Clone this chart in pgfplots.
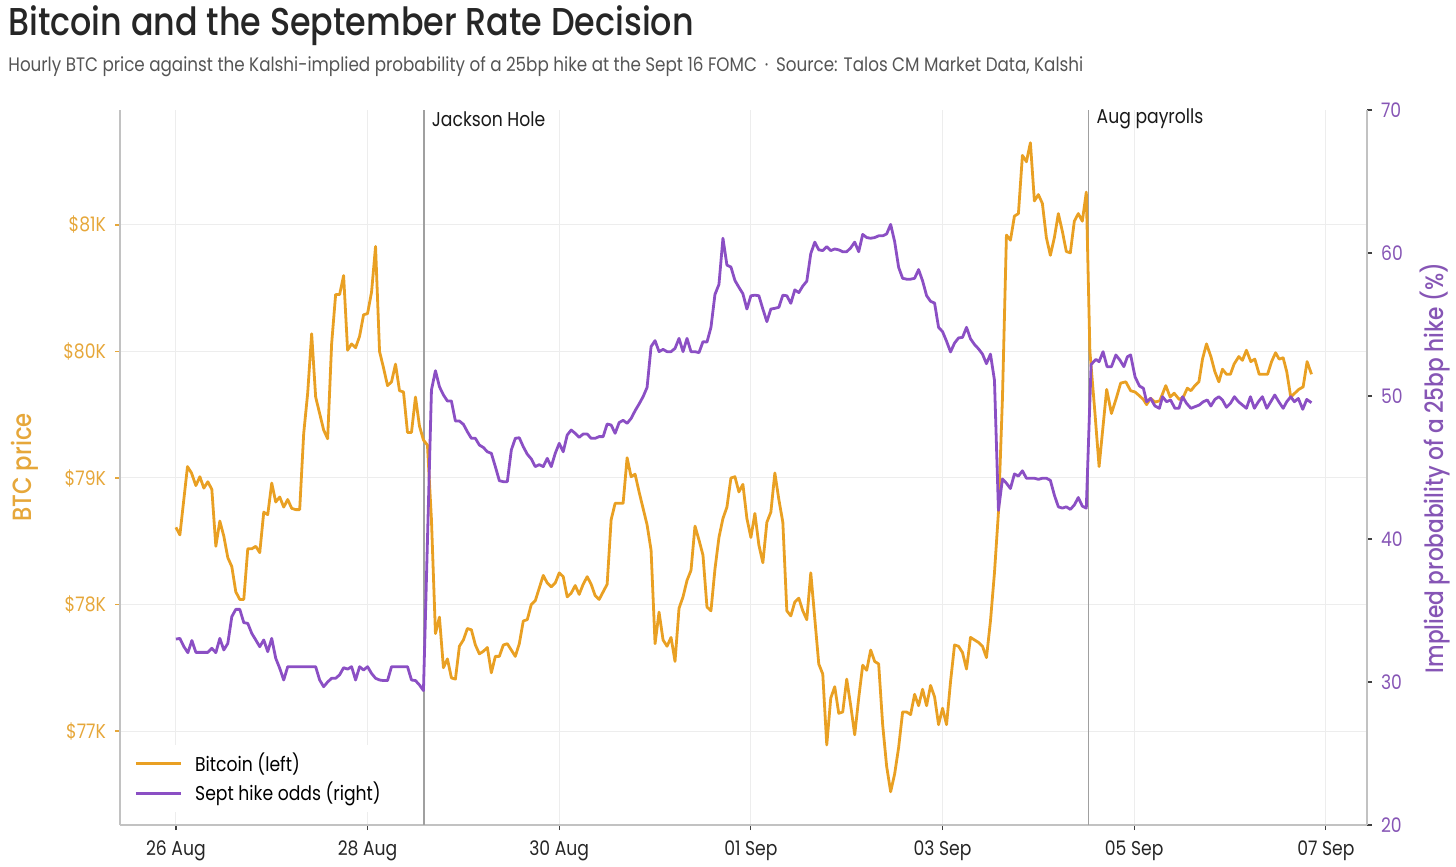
\documentclass[border=0pt]{standalone}
\usepackage{pgfplots}
\pgfplotsset{compat=1.18}
\usepackage{fontspec}
\setmainfont{Poppins}[FakeStretch=0.86]
\newfontfamily\medfont{Poppins Medium}[FakeStretch=0.86]
\definecolor{btc}{HTML}{E9A023}
\definecolor{odds}{HTML}{8B4FC4}
\definecolor{btclab}{HTML}{E6A73A}
\definecolor{oddslab}{HTML}{8655B5}
\definecolor{titlec}{HTML}{262626}
\definecolor{subc}{HTML}{555555}
\definecolor{spine}{HTML}{C2C2C2}
\definecolor{gridc}{HTML}{EDEDED}
\definecolor{eventc}{HTML}{A0A0A0}
\begin{document}
\begin{tikzpicture}
\path[use as bounding box] (0,0) rectangle (728pt,433.5pt);
\node[anchor=base west, inner sep=0, text=titlec] at (4pt,415.5pt) {\medfont\fontsize{19.4pt}{21pt}\selectfont Bitcoin and the September Rate Decision};
\node[anchor=base west, inner sep=0, text=subc] at (4pt,397.5pt) {\fontsize{9.75pt}{11pt}\selectfont Hourly BTC price against the Kalshi-implied probability of a 25bp hike at the Sept 16 FOMC \,·\, Source: Talos CM Market Data, Kalshi};
\node[rotate=90, text=btclab] at (12.5pt,199.75pt) {\medfont\fontsize{13.2pt}{14pt}\selectfont BTC price};
\node[rotate=90, text=oddslab] at (717.5pt,199.5pt) {\medfont\fontsize{12.6pt}{13pt}\selectfont Implied probability of a 25bp hike (\%)};
\begin{axis}[
  at={(60pt,21pt)}, anchor=south west, scale only axis,
  width=623.5pt, height=357.5pt,
  xmin=-14, xmax=298.3, ymin=76.257, ymax=81.909,
  axis x line*=bottom, axis y line*=left,
  axis line style={draw=spine, line width=0.8pt, -},
  xtick={0,48,96,144,192,240,288},
  xticklabels={26 Aug,28 Aug,30 Aug,01 Sep,03 Sep,05 Sep,07 Sep},
  ytick={77,78,79,80,81},
  yticklabels={\$77K,\$78K,\$79K,\$80K,\$81K},
  tick align=outside, major tick length=2.5pt,
  xtick style={draw=black!75, line width=0.6pt},
  ytick style={draw=btclab, line width=0.6pt},
  xticklabel style={font=\fontsize{10pt}{11pt}\selectfont, text=black!85, yshift=-2pt},
  yticklabel style={font=\fontsize{10pt}{11pt}\selectfont, text=btclab, xshift=-1pt},
  grid=major, grid style={draw=gridc, line width=0.5pt},
  clip=false,
]
\draw[eventc, line width=0.75pt] (axis cs:62.1,76.257) -- (axis cs:62.1,81.909);
\draw[eventc, line width=0.75pt] (axis cs:228.6,76.257) -- (axis cs:228.6,81.909);
\node[anchor=west, inner sep=0, text=black!90, font=\fontsize{10pt}{11pt}\selectfont] at (axis cs:64,81.84) {Jackson Hole};
\node[anchor=west, inner sep=0, text=black!90, font=\fontsize{10pt}{11pt}\selectfont] at (axis cs:230.5,81.84) {Aug payrolls};
\addplot[btc, line width=1.4pt, line join=round] coordinates {
(0,78.61)(1,78.55)(2.9,79.09)(3.9,79.04)(5,78.94)(6,79.01)(7,78.92)(8,78.97)(9,78.91)(10,78.46)
(11,78.66)(12,78.54)(13,78.37)(14,78.30)(15,78.10)(16,78.04)(17,78.04)(18,78.44)(19,78.44)(20,78.46)
(21,78.41)(22,78.73)(23,78.71)(24,78.96)(25,78.81)(26,78.85)(27,78.77)(28,78.83)(29,78.76)(30,78.75)
(31,78.75)(32,79.35)(33,79.67)(34,80.14)(35,79.64)(36,79.51)(37,79.38)(38,79.31)(39,80.06)(40,80.45)
(41,80.45)(42,80.60)(43,80.01)(44,80.06)(45,80.03)(46,80.12)(47,80.29)(48,80.30)(49,80.47)(50,80.83)
(51,80.00)(52,79.87)(53,79.73)(54,79.76)(55,79.90)(56,79.69)(57,79.68)(58,79.36)(59,79.36)(60,79.64)
(61,79.41)(62,79.30)(63,79.26)(64,78.67)(65,77.77)(66,77.90)(67,77.50)(68,77.57)(69,77.42)(70,77.41)
(71,77.67)(72,77.72)(73,77.81)(74,77.80)(75,77.68)(76,77.61)(77,77.63)(78,77.66)(79,77.46)(80,77.59)
(81,77.59)(82,77.68)(83,77.69)(84,77.64)(85,77.59)(86,77.69)(87,77.87)(88,77.88)(89,78.00)(90,78.03)
(91,78.13)(92,78.23)(93,78.17)(94,78.14)(95,78.17)(96,78.25)(97,78.22)(98,78.06)(99,78.09)(100,78.15)
(101,78.08)(102,78.16)(103,78.22)(104,78.16)(105,78.07)(106,78.04)(107,78.10)(108,78.16)(109,78.67)(110,78.80)
(111,78.80)(112,78.80)(113,79.16)(114,79.01)(115,79.03)(116,78.89)(117,78.76)(118,78.63)(119,78.43)(120,77.69)
(121,77.94)(122,77.72)(123,77.67)(124,77.74)(125,77.55)(126,77.97)(127,78.06)(128,78.19)(129,78.27)(130,78.62)
(131,78.51)(132,78.39)(133,77.98)(134,77.95)(135,78.28)(136,78.53)(137,78.68)(138,78.77)(139,79.00)(140,79.01)
(141,78.89)(142,78.95)(143,78.68)(144,78.53)(145,78.72)(146,78.47)(147,78.33)(148,78.65)(149,78.73)(150,79.04)
(151,78.83)(152,78.65)(153,77.95)(154,77.91)(155,78.02)(156,78.05)(157,77.95)(158,77.88)(159,78.25)(160,77.89)
(161,77.53)(162,77.45)(163,76.89)(164,77.26)(165,77.35)(166,77.14)(167,77.15)(168,77.41)(169,77.20)(170,76.97)
(171,77.26)(172,77.52)(173,77.48)(174,77.64)(175,77.55)(176,77.53)(177,77.05)(178,76.72)(179,76.52)(180,76.66)
(181,76.87)(182,77.15)(183,77.15)(184,77.13)(185,77.29)(186,77.20)(187,77.33)(188,77.20)(189,77.36)(190,77.27)
(191,77.05)(192,77.18)(193,77.05)(194,77.39)(195,77.68)(196,77.67)(197,77.62)(198,77.49)(199,77.74)(200,77.72)
(201,77.70)(202,77.67)(203,77.58)(204,77.87)(205,78.25)(206,78.73)(207,79.63)(208,80.92)(209,80.88)(210,81.07)
(211,81.09)(212,81.55)(213,81.50)(214,81.65)(215,81.19)(216,81.24)(217,81.17)(218,80.90)(219,80.76)(220,80.90)
(221,81.09)(222,80.95)(223,80.79)(224,80.78)(225,81.03)(226,81.09)(227,81.03)(228,81.26)(228.9,80.00)(230.2,79.50)
(231.2,79.09)(233.1,79.70)(234.3,79.51)(235.6,79.64)(236.6,79.75)(237.9,79.76)(239.1,79.69)(240.2,79.68)(241.3,79.65)(242.3,79.62)
(243.1,79.58)(244.1,79.63)(245.2,79.60)(246.4,79.61)(247.9,79.73)(249.0,79.64)(250.0,79.67)(251.3,79.62)(252.3,79.64)(253.3,79.71)
(254.2,79.69)(255.2,79.73)(256.2,79.76)(257.1,79.94)(258.1,80.06)(259.2,79.96)(260.2,79.84)(261.2,79.76)(262.1,79.86)(263.1,79.82)
(264.1,79.82)(265.0,79.90)(266.2,79.96)(267.1,79.93)(268.1,80.01)(269.2,79.92)(270.2,79.94)(271.3,79.82)(272.3,79.82)(273.4,79.82)
(274.4,79.92)(275.4,79.99)(276.3,79.94)(277.3,79.95)(278.2,79.84)(279.2,79.64)(280.2,79.67)(281.2,79.70)(282.3,79.72)(283.3,79.92)
(284.4,79.82)
};
\end{axis}
\begin{axis}[
  at={(60pt,21pt)}, anchor=south west, scale only axis,
  width=623.5pt, height=357.5pt,
  xmin=-14, xmax=298.3, ymin=20, ymax=70,
  axis x line=none, axis y line*=right,
  axis line style={draw=spine, line width=0.8pt, -},
  ytick={20,30,40,50,60,70},
  yticklabels={20,30,40,50,60,70},
  tick align=outside, major tick length=2.5pt,
  ytick style={draw=black!75, line width=0.6pt},
  yticklabel style={font=\fontsize{10pt}{11pt}\selectfont, text=oddslab, xshift=1pt},
  clip=false,
  legend style={at={(0.008,0.113)}, anchor=north west, draw=none, fill=white,
    font=\fontsize{10pt}{11pt}\selectfont, row sep=0pt, inner sep=2pt,
    /tikz/every odd column/.append style={column sep=4.5pt}},
  legend cell align=left,
  legend image code/.code={\draw[#1] (0pt,0pt) -- (22.5pt,0pt);},
]
\addlegendimage{btc, line width=1.4pt}
\addlegendentry{Bitcoin (left)}
\addplot[odds, line width=1.4pt, line join=round] coordinates {
(0,33.0)(1,33.05)(2,32.47)(3,32.05)(4,32.9)(5,32.07)(6,32.07)(7,32.07)(8,32.07)(9,32.36)
(10,32.05)(11,33.05)(12,32.24)(13,32.7)(14,34.57)(15,35.08)(16,35.08)(17,34.15)(18,34.1)(19,33.4)
(20,32.94)(21,32.47)(22,32.94)(23,32.12)(24,33.05)(25,31.66)(26,30.96)(27,30.14)(28,31.07)(29,31.07)
(30,31.07)(31,31.07)(32,31.07)(33,31.07)(34,31.07)(35,31.07)(36,30.14)(37,29.67)(38,30.0)(39,30.26)
(40,30.26)(41,30.5)(42,31.0)(43,30.9)(44,31.07)(45,30.14)(46,31.07)(47,30.84)(48,31.07)(49,30.6)
(50,30.26)(51,30.14)(52,30.1)(53,30.1)(54,31.07)(55,31.07)(56,31.07)(57,31.07)(58,31.07)(59,30.14)
(60,30.1)(61,29.79)(62,29.4)(64,50.42)(65,51.77)(66,50.65)(67,50.07)(68,49.65)(69,49.65)(70,48.25)
(71,48.25)(72,48.02)(73,47.5)(74,47.04)(75,47.04)(76,46.57)(77,46.4)(78,46.1)(79,45.99)(80,45.06)
(81,44.08)(82,44.01)(83,44.01)(84,46.22)(85,47.04)(86,47.08)(87,46.45)(88,45.93)(89,45.6)(90,45.06)
(91,45.2)(92,45.06)(93,45.64)(94,45.06)(95,45.99)(96,46.69)(97,46.1)(98,47.27)(99,47.62)(100,47.39)
(101,47.11)(102,47.34)(103,47.34)(104,47.04)(105,47.04)(106,47.16)(107,47.16)(108,48.04)(109,47.97)(110,47.39)
(111,48.14)(112,48.3)(113,48.09)(114,48.43)(115,48.97)(116,49.44)(117,49.95)(118,50.6)(119,53.45)(120,53.87)
(121,53.1)(122,53.26)(123,53.1)(124,53.1)(125,53.33)(126,54.03)(127,53.1)(128,54.03)(129,53.1)(130,53.1)
(131,53.03)(132,53.8)(133,53.77)(134,54.8)(135,57.1)(136,57.8)(137,61.03)(138,59.15)(139,59.02)(140,58.08)
(141,57.6)(142,57.15)(143,56.08)(144,57.01)(145,57.05)(146,57.01)(147,56.08)(148,55.2)(149,56.08)(150,56.13)
(151,56.2)(152,57.05)(153,57.01)(154,56.48)(155,57.42)(156,57.23)(157,57.69)(158,58.03)(159,59.96)(160,60.76)
(161,60.22)(162,60.17)(163,60.44)(164,60.17)(165,60.28)(166,60.22)(167,60.09)(168,60.09)(169,60.36)(170,60.76)
(171,60.09)(172,61.3)(173,61.08)(174,61.03)(175,61.08)(176,61.2)(177,61.2)(178,61.33)(179,62.0)(180,60.8)
(181,59.0)(182,58.23)(183,58.17)(184,58.17)(185,58.23)(186,58.84)(187,58.05)(188,57.02)(189,56.62)(190,56.5)
(191,54.8)(192,54.5)(193,53.83)(194,53.08)(195,53.7)(196,54.06)(197,54.1)(198,54.8)(199,54.0)(200,53.6)
(201,53.3)(202,52.93)(203,52.26)(204,52.93)(205,51.1)(206,42.0)(207,44.2)(208,43.9)(209,43.53)(210,44.55)
(211,44.4)(212,44.77)(213,44.25)(214,44.25)(215,44.25)(216,44.17)(217,44.25)(218,44.25)(219,44.1)(220,43.07)
(221,42.25)(222,42.16)(223,42.25)(224,42.07)(225,42.38)(226,42.9)(227,42.3)(228,42.16)(229.2,52.2)(230.4,52.56)
(231.2,52.4)(232.2,53.1)(233.2,52.05)(234.3,52.05)(235.4,52.87)(236.4,52.52)(237.4,52.05)(238.3,52.75)(239.1,52.87)(240.2,51.35)
(241.3,50.7)(242.3,50.54)(243.1,49.6)(244.1,49.83)(245.2,49.3)(246.3,49.14)(247.1,49.95)(248.1,49.6)(249.1,49.72)(250.2,49.14)
(251.2,49.14)(252.1,49.95)(253.1,49.49)(254.2,49.14)(255.2,49.25)(256.3,49.37)(257.3,49.6)(258.3,49.72)(259.2,49.3)(260.2,49.76)
(261.2,49.95)(262.1,49.72)(263.1,49.21)(264.1,49.49)(265.1,49.95)(266.1,49.6)(267.1,49.37)(268.1,49.14)(269.1,49.95)(270.1,49.14)
(271.1,49.6)(272.1,49.95)(273.2,49.14)(274.2,49.6)(275.2,50.07)(276.2,49.6)(277.3,49.14)(278.2,49.6)(279.2,49.95)(280.1,49.6)
(281.1,49.83)(282.2,49.07)(283.2,49.76)(284.4,49.53)
};
\addlegendentry{Sept hike odds (right)}
\end{axis}
\end{tikzpicture}
\end{document}
